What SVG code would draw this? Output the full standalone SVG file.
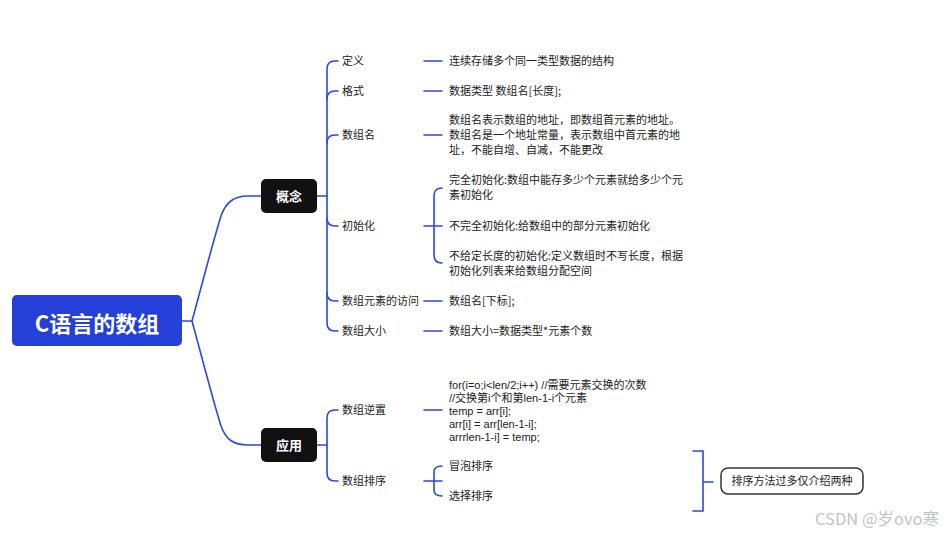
<svg xmlns="http://www.w3.org/2000/svg" width="946" height="535" viewBox="0 0 946 535">
<style>
.ln{fill:none;stroke:#2d48dc;stroke-width:1.6;stroke-linecap:round}
.t{font-family:"Noto Sans CJK SC","Liberation Sans",sans-serif;font-size:11px;fill:#222}
.code{font-family:"Liberation Sans","Noto Sans CJK SC",sans-serif;font-size:11px;fill:#222}
.cat{fill:#111}
.ct{font-family:"Noto Sans CJK SC","Liberation Sans",sans-serif;font-size:13px;font-weight:bold;fill:#fff;text-anchor:middle}
</style>
<rect width="946" height="535" fill="#fff"/>
<g id="connectors">
<path class="ln" d="M182,321 H192 C200,292 212,245 221,216 C226,202 234,196 248,196 H261"/>
<path class="ln" d="M192,321 C200,350 212,397 221,426 C226,440 234,445 248,445 H261"/>
<path class="ln" d="M317,196 H327"/>
<path class="ln" d="M338,61 H335 Q327,61 327,69 V323 Q327,331 335,331 H338"/>
<path class="ln" d="M338,91 H335 Q327,91 327,99"/>
<path class="ln" d="M338,135 H335 Q327,135 327,143"/>
<path class="ln" d="M338,226 H335 Q327,226 327,218"/>
<path class="ln" d="M338,301 H335 Q327,301 327,293"/>
<path class="ln" d="M424,61 H442 M424,91 H442 M424,135 H442 M424,301 H442 M424,331 H442"/>
<path class="ln" d="M424,226 H442 M442,188 Q434,188 434,196 V255 Q434,263 442,263"/>
<path class="ln" d="M317,445 H327"/>
<path class="ln" d="M338,410 H335 Q327,410 327,418 V473 Q327,481 335,481 H338"/>
<path class="ln" d="M424,410 H442"/>
<path class="ln" d="M424,481 H442 M442,466 Q434,466 434,472 V490 Q434,496 442,496"/>
<path class="ln" d="M693,451 H703 V511 H693 M703,482 H713"/>
</g>
<g id="root">
<rect x="12" y="295" width="170" height="51" rx="5" fill="#2440d8"/>
<text x="97" y="332" font-family="'Noto Sans CJK SC','Liberation Sans',sans-serif" font-size="22" font-weight="bold" fill="#fff" text-anchor="middle">C语言的数组</text>
</g>
<g id="gainian">
<rect class="cat" x="261" y="179" width="56" height="34" rx="5"/>
<text class="ct" x="289" y="201">概念</text>
</g>
<g id="yingyong">
<rect class="cat" x="261" y="428" width="56" height="34" rx="5"/>
<text class="ct" x="289" y="450">应用</text>
</g>
<g id="dingyi"><text class="t" x="342" y="65">定义</text></g>
<g id="geshi"><text class="t" x="342" y="95">格式</text></g>
<g id="shuzuming"><text class="t" x="342" y="139">数组名</text></g>
<g id="chushihua"><text class="t" x="342" y="230">初始化</text></g>
<g id="fangwen"><text class="t" x="342" y="305">数组元素的访问</text></g>
<g id="daxiao"><text class="t" x="342" y="335">数组大小</text></g>
<g id="leaf-dingyi"><text class="t" x="449" y="65">连续存储多个同一类型数据的结构</text></g>
<g id="leaf-geshi"><text class="t" x="449" y="95">数据类型 数组名[长度];</text></g>
<g id="leaf-shuzuming"><text class="t" x="449" y="124">数组名表示数组的地址，即数组首元素的地址。</text><text class="t" x="449" y="139">数组名是一个地址常量，表示数组中首元素的地</text><text class="t" x="449" y="154">址，不能自增、自减，不能更改</text></g>
<g id="leaf-init1"><text class="t" x="449" y="184">完全初始化:数组中能存多少个元素就给多少个元</text><text class="t" x="449" y="199">素初始化</text></g>
<g id="leaf-init2"><text class="t" x="449" y="230">不完全初始化:给数组中的部分元素初始化</text></g>
<g id="leaf-init3"><text class="t" x="449" y="260">不给定长度的初始化:定义数组时不写长度，根据</text><text class="t" x="449" y="275">初始化列表来给数组分配空间</text></g>
<g id="leaf-fangwen"><text class="t" x="449" y="305">数组名[下标];</text></g>
<g id="leaf-daxiao"><text class="t" x="449" y="335">数组大小=数据类型*元素个数</text></g>
<g id="nizhi"><text class="t" x="342" y="414">数组逆置</text></g>
<g id="paixu"><text class="t" x="342" y="485">数组排序</text></g>
<g id="leaf-nizhi"><text class="code" x="449" y="389">for(i=o;i&lt;len/2;i++) //需要元素交换的次数</text><text class="code" x="449" y="402">//交换第i个和第len-1-i个元素</text><text class="code" x="449" y="415">temp = arr[i];</text><text class="code" x="449" y="428">arr[i] = arr[len-1-i];</text><text class="code" x="449" y="441">arrrlen-1-i] = temp;</text></g>
<g id="maopao"><text class="t" x="449" y="470">冒泡排序</text></g>
<g id="xuanze"><text class="t" x="449" y="500">选择排序</text></g>
<g id="note">
<rect x="721" y="468" width="142" height="26" rx="7" fill="#fff" stroke="#333" stroke-width="1.5"/>
<text class="t" x="792" y="485" text-anchor="middle" fill="#111">排序方法过多仅介绍两种</text>
</g>
<text x="815" y="525" font-family="'Noto Sans CJK SC','Liberation Sans',sans-serif" font-size="16.5" fill="#c4c4c4">CSDN @岁ovo寒</text>
</svg>
